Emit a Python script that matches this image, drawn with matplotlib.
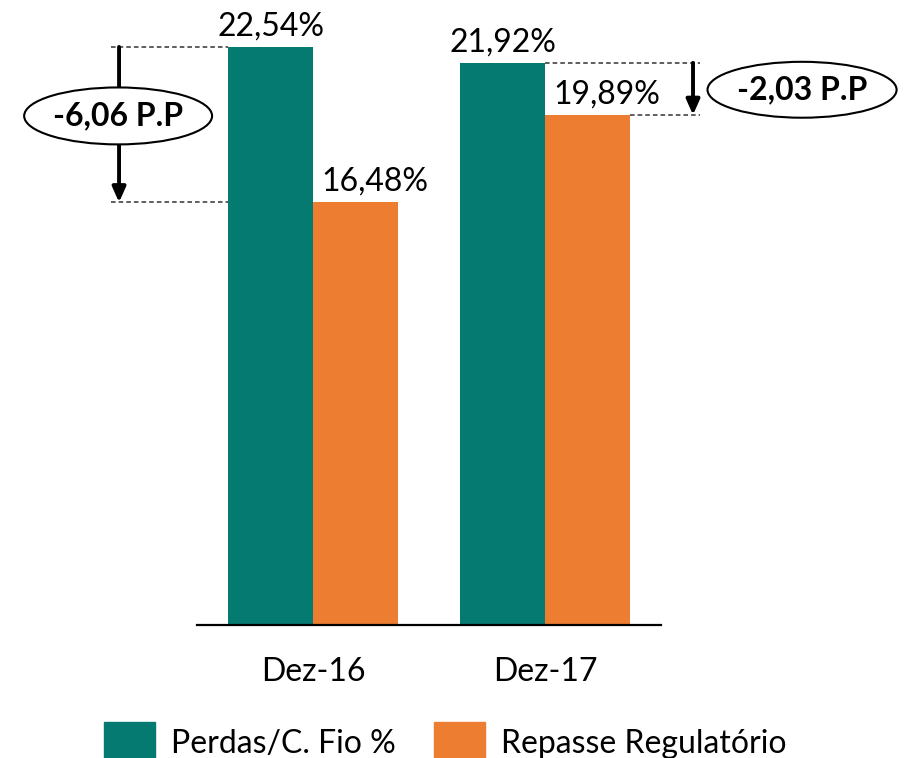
import matplotlib.pyplot as plt
from matplotlib.patches import Ellipse, Patch

categories = ['Dez-16', 'Dez-17']
perdas = [22.54, 21.92]
repasse = [16.48, 19.89]
series_names = ['Perdas/C. Fio %', 'Repasse Regulatório']
deltas = ['-6,06 P.P', '-2,03 P.P']

TEAL = '#047A70'
ORANGE = '#ED7D31'

plt.rcParams['font.family'] = ['Lato', 'DejaVu Sans']

fig = plt.figure(figsize=(9.09, 7.58), dpi=100)
W, H = 909, 758
# axes: x from 197 to 661 px, y from 625 px (zero) to top
ax = fig.add_axes([197 / W, (H - 625) / H, 464 / W, 625 / H])
ax.set_xlim(-0.5, 1.5)
ax.set_ylim(0, 24.37)

bw = 0.366
x = list(range(len(categories)))
ax.bar([i - bw / 2 for i in x], perdas, bw, color=TEAL, label=series_names[0])
ax.bar([i + bw / 2 for i in x], repasse, bw, color=ORANGE, label=series_names[1])

def fmt(v):
    return f'{v:.2f}%'.replace('.', ',')

for i in x:
    ax.annotate(fmt(perdas[i]), (i - bw / 2, perdas[i]), xytext=(0, 4),
                textcoords='offset points', ha='center', va='bottom', fontsize=23)
    ax.annotate(fmt(repasse[i]), (i + bw / 2, repasse[i]), xytext=(14, 4),
                textcoords='offset points', ha='center', va='bottom', fontsize=23)

for s in ['top', 'right', 'left']:
    ax.spines[s].set_visible(False)
ax.spines['bottom'].set_linewidth(1.6)
ax.set_yticks([])
ax.set_xticks(x)
ax.set_xticklabels(categories, fontsize=23)
ax.tick_params(axis='x', length=0, pad=23)

dash = dict(color='#333333', lw=1.1, ls=(0, (3, 2)), clip_on=False)
arrow = dict(arrowstyle='-|>,head_length=0.9,head_width=0.4', lw=2.8,
             color='black', shrinkA=0, shrinkB=0)

# Dez-16 difference marker (left side)
ax.plot([-0.871, -bw], [perdas[0], perdas[0]], **dash)
ax.plot([-0.871, -bw], [repasse[0], repasse[0]], **dash)
ax.annotate('', xy=(-0.836, repasse[0]), xytext=(-0.836, perdas[0]),
            arrowprops=arrow, annotation_clip=False)
ax.add_patch(Ellipse((-0.84, 19.85), 0.81, 2.22, facecolor='white',
                     edgecolor='black', lw=1.5, clip_on=False, zorder=5))
ax.text(-0.84, 19.85, deltas[0], ha='center', va='center', fontsize=23,
        fontweight='bold', zorder=6)

# Dez-17 difference marker (right side)
ax.plot([1.0, 1.668], [perdas[1], perdas[1]], **dash)
ax.plot([1 + bw, 1.668], [repasse[1], repasse[1]], **dash)
ax.annotate('', xy=(1.638, repasse[1]), xytext=(1.638, perdas[1]),
            arrowprops=arrow, annotation_clip=False)
ax.add_patch(Ellipse((2.108, 20.87), 0.815, 2.18, facecolor='white',
                     edgecolor='black', lw=1.5, clip_on=False, zorder=5))
ax.text(2.108, 20.87, deltas[1], ha='center', va='center', fontsize=23,
        fontweight='bold', zorder=6)

handles = [Patch(color=TEAL), Patch(color=ORANGE)]
fig.legend(handles, series_names, loc='lower center', ncol=2, frameon=False,
           fontsize=23, handlelength=1.6, handleheight=1.6, columnspacing=1.2,
           handletextpad=0.5, bbox_to_anchor=(0.49, -0.044))

fig.savefig('out.png', dpi=100)
